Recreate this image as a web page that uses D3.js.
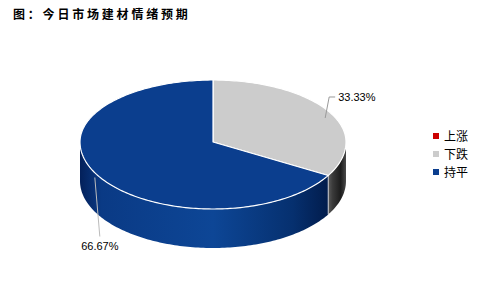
<!DOCTYPE html>
<html>
<head>
<meta charset="utf-8">
<script src="https://cdn.jsdelivr.net/npm/d3@7"></script>
<style>
  body { margin: 0; background: #fff; }
  svg { display: block; }
</style>
</head>
<body>
<div id="chart"></div>
<script>
var titleText = "图：今日市场建材情绪预期";
var categories = ["上涨", "下跌", "持平"];
var shares = [0, 33.33, 66.67];
var sliceColors = ["#cc0000", "#cccccc", "#0b3e8e"];

var width = 480, height = 288;
var cx = 213, cy = 142;
var rx = 133, ryTop = 62, ryBottom = 67, depth = 39;

var svg = d3.select("#chart").append("svg")
	.attr("width", width)
	.attr("height", height);

svg.append("text")
	.attr("x", 13)
	.attr("y", 19)
	.attr("font-family", "'Noto Sans CJK SC', sans-serif")
	.attr("font-weight", "bold")
	.attr("font-size", 12)
	.attr("letter-spacing", 2.8)
	.text(titleText);

var defs = svg.append("defs");
var blueGrad = defs.append("linearGradient")
	.attr("id", "sideBlue")
	.attr("gradientUnits", "userSpaceOnUse")
	.attr("x1", cx - rx).attr("x2", cx + rx).attr("y1", 0).attr("y2", 0);
[[0, "#03205a"], [0.08, "#0a3a85"], [0.5, "#0d4696"], [0.8, "#06306f"], [0.95, "#011a48"], [1, "#00102e"]]
	.forEach(s => blueGrad.append("stop").attr("offset", s[0]).attr("stop-color", s[1]));
var grayGrad = defs.append("linearGradient")
	.attr("id", "sideGray")
	.attr("gradientUnits", "userSpaceOnUse")
	.attr("x1", cx + rx * Math.cos(Math.PI / 6)).attr("x2", cx + rx).attr("y1", 0).attr("y2", 0);
[[0, "#5a5a5a"], [0.25, "#3a3a3a"], [0.7, "#1c1c1c"], [1, "#4a4a4a"]]
	.forEach(s => grayGrad.append("stop").attr("offset", s[0]).attr("stop-color", s[1]));
var sideFills = [sliceColors[0], "url(#sideGray)", "url(#sideBlue)"];

// screen angle t: 0 = 3 o'clock, clockwise
function pt(t, dy) {
	var s = Math.sin(t);
	return [cx + rx * Math.cos(t), cy + (s > 0 ? ryBottom : ryTop) * s + (dy || 0)];
}
function arcPts(t0, t1, dy) {
	var n = Math.max(2, Math.ceil(Math.abs(t1 - t0) / 0.02));
	return d3.range(n + 1).map(i => pt(t0 + (t1 - t0) * i / n, dy));
}

var pie = d3.pie().sort(null).value(d => d)(shares);
var slices = pie.map((p, i) => ({
	name: categories[i],
	value: shares[i],
	t0: p.startAngle - Math.PI / 2,
	t1: p.endAngle - Math.PI / 2,
	i: i
})).filter(d => d.value > 0);

var line = d3.line();

// sides (front half only)
slices.forEach(d => {
	var ranges = [[0, Math.PI], [2 * Math.PI, 3 * Math.PI]];
	ranges.forEach(r => {
		var s0 = Math.max(d.t0, r[0]), s1 = Math.min(d.t1, r[1]);
		if (s1 <= s0) return;
		var top = arcPts(s0, s1, 0);
		var bottom = arcPts(s1, s0, depth);
		svg.append("path")
			.attr("d", line(top.concat(bottom)) + "Z")
			.attr("fill", sideFills[d.i]);
		// vertical edge where the slice starts on the front
		if (s0 > r[0]) {
			svg.append("path")
				.attr("d", line([pt(s0, 0), pt(s0, depth)]))
				.attr("stroke", "#ffffff").attr("stroke-opacity", 0.7).attr("stroke-width", 1);
		}
	});
});

// tops
slices.forEach(d => {
	svg.append("path")
		.attr("d", line([[cx, cy]].concat(arcPts(d.t0, d.t1, 0))) + "Z")
		.attr("fill", sliceColors[d.i])
		.attr("stroke", "#ffffff")
		.attr("stroke-width", 1.2)
		.attr("stroke-linejoin", "round");
});

// data labels
slices.forEach(d => {
	var tm = (d.t0 + d.t1) / 2;
	var p = pt(tm, 0);
	var label = d.value.toFixed(2) + "%";
	var g = svg.append("g");
	if (Math.sin(tm) < 0) {
		var elbow = [p[0] + 1, p[1] - 14];
		g.append("path")
			.attr("d", line([[p[0] - 3, p[1] + 7], elbow, [elbow[0] + 6, elbow[1]]]))
			.attr("fill", "none").attr("stroke", "#999").attr("stroke-width", 1);
		g.append("text")
			.attr("x", elbow[0] + 9).attr("y", elbow[1] + 4)
			.attr("font-family", "'Liberation Sans', Arial, sans-serif")
			.attr("font-size", 11)
			.text(label);
	} else {
		var end = [p[0] + 2, p[1] + 61];
		g.append("path")
			.attr("d", line([[p[0] - 3, p[1] + 2], end]))
			.attr("fill", "none").attr("stroke", "#bbb").attr("stroke-width", 1);
		g.append("text")
			.attr("x", end[0]).attr("y", end[1] + 13)
			.attr("text-anchor", "middle")
			.attr("font-family", "'Liberation Sans', Arial, sans-serif")
			.attr("font-size", 11)
			.text(label);
	}
});

// legend
var legend = svg.append("g").attr("transform", "translate(433,136)");
var item = legend.selectAll("g").data(categories).enter().append("g")
	.attr("transform", (d, i) => "translate(0," + (i * 18) + ")");
item.append("rect")
	.attr("x", 0).attr("y", -3).attr("width", 6).attr("height", 6)
	.attr("fill", (d, i) => sliceColors[i]);
item.append("text")
	.attr("x", 11).attr("y", 4.5)
	.attr("font-family", "'Noto Sans CJK SC', sans-serif")
	.attr("font-size", 12)
	.text(d => d);
</script>
</body>
</html>
